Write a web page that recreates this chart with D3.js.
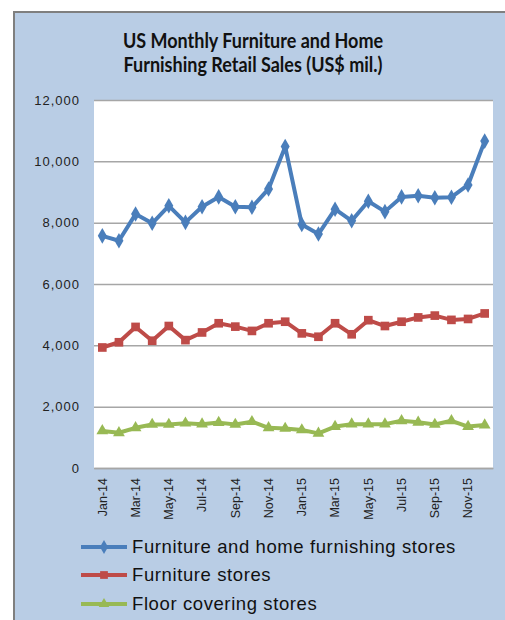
<!DOCTYPE html>
<html><head><meta charset="utf-8">
<script src="https://cdn.jsdelivr.net/npm/d3@7"></script>
<style>body{margin:0;background:#fff}svg{display:block}</style>
</head><body><div id="c"></div>
<script>
const months = ["Jan-14","Feb-14","Mar-14","Apr-14","May-14","Jun-14","Jul-14","Aug-14","Sep-14","Oct-14","Nov-14","Dec-14",
  "Jan-15","Feb-15","Mar-15","Apr-15","May-15","Jun-15","Jul-15","Aug-15","Sep-15","Oct-15","Nov-15","Dec-15"];
const homeFurnishing = [7570,7410,8280,7980,8550,8010,8520,8840,8520,8500,9100,10480,
  7940,7630,8440,8060,8700,8360,8840,8880,8810,8830,9230,10660];
const furnitureStores = [3930,4100,4600,4150,4630,4170,4420,4720,4610,4470,4720,4770,
  4390,4280,4720,4360,4820,4630,4770,4910,4970,4830,4860,5040];
const floorCovering = [1210,1150,1310,1420,1420,1460,1430,1480,1420,1510,1310,1290,
  1240,1130,1350,1430,1430,1430,1540,1490,1420,1540,1350,1400];
const yTicks = [0,2000,4000,6000,8000,10000,12000];
const seriesNames = ["Furniture and home furnishing stores","Furniture stores","Floor covering stores"];
const seriesColors = ["#4A7EBB","#BE4B48","#98B954"];

const W=505,H=620;
const svg=d3.select("#c").append("svg").attr("width",W).attr("height",H);
svg.append("rect").attr("x",14).attr("y",12).attr("width",W).attr("height",H).attr("fill","#B9CDE5")
  .attr("stroke","#7F7F7F").attr("stroke-width",2);

const titleLines=["US Monthly Furniture and Home","Furnishing Retail Sales (US$ mil.)"];
titleLines.forEach((t,i)=>{
  svg.append("text").attr("transform",`translate(253,${48+i*24}) scale(0.9,1)`).attr("text-anchor","middle")
    .attr("font-family","Lato, sans-serif").attr("font-weight","bold").attr("font-size",20).attr("fill","#111")
    .text(t);
});

const L=94,R=493,T=100,B=468;
svg.append("rect").attr("x",L).attr("y",T).attr("width",R-L).attr("height",B-T).attr("fill","#fff");
const x=d3.scaleBand().domain(months).range([L,R]);
const y=d3.scaleLinear().domain([0,12000]).range([B,T]);

const gy=svg.append("g").attr("transform",`translate(${L},0)`)
  .call(d3.axisLeft(y).tickValues(yTicks).tickSize(-(R-L)).tickFormat(d3.format(",")));
gy.select(".domain").remove();
gy.selectAll(".tick line").attr("stroke","#A6A6A6").attr("stroke-width",1.5);
gy.selectAll(".tick text").attr("x",-14).attr("font-family","Liberation Sans, Arial, sans-serif")
  .attr("font-size",13).attr("fill","#222").style("letter-spacing","1px");

const gx=svg.append("g").attr("transform",`translate(0,${B})`)
  .call(d3.axisBottom(x).tickValues(months.filter((d,i)=>i%2===0)).tickSize(0));
gx.select(".domain").attr("stroke","#A6A6A6").attr("stroke-width",1.5);
gx.selectAll(".tick text").attr("font-family","Liberation Sans, Arial, sans-serif").attr("font-size",12.5)
  .attr("fill","#222").attr("text-anchor","end").attr("dy","0.35em")
  .attr("transform","translate(0,10) rotate(-90)").attr("x",0).attr("y",0);

const all=[homeFurnishing,furnitureStores,floorCovering];
const line=d3.line().x((d,i)=>x(months[i])+x.bandwidth()/2).y(d=>y(d));
const shapes=[d3.symbolDiamond,d3.symbolSquare,d3.symbolTriangle];
const sizes=[70,75,60];
all.forEach((s,k)=>{
  svg.append("path").datum(s).attr("d",line).attr("fill","none").attr("stroke",seriesColors[k])
    .attr("stroke-width",4).attr("stroke-linejoin","round");
  svg.append("g").selectAll("path").data(s).join("path")
    .attr("transform",(d,i)=>`translate(${x(months[i])+x.bandwidth()/2},${y(d)})`)
    .attr("d",d3.symbol(shapes[k],sizes[k])).attr("fill",seriesColors[k]);
});

const ly=[547,575,604];
seriesNames.forEach((n,k)=>{
  svg.append("line").attr("x1",81).attr("x2",127).attr("y1",ly[k]).attr("y2",ly[k])
    .attr("stroke",seriesColors[k]).attr("stroke-width",4);
  svg.append("path").attr("transform",`translate(104,${ly[k]})`).attr("d",d3.symbol(shapes[k],sizes[k]*0.8)).attr("fill",seriesColors[k]);
  svg.append("text").attr("x",132).attr("y",ly[k]).attr("dy","0.35em")
    .attr("font-family","Liberation Sans, Arial, sans-serif").attr("font-size",18.5).attr("fill","#111")
    .style("letter-spacing","0.6px").text(n);
});
</script></body></html>
